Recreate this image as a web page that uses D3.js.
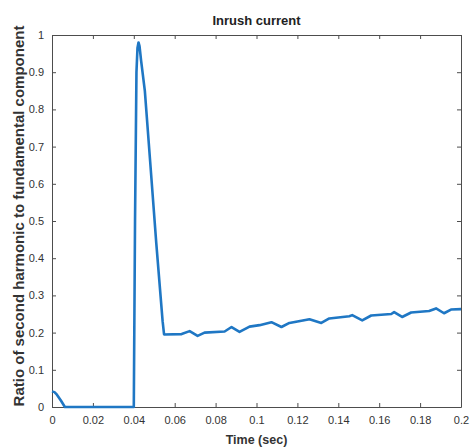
<!DOCTYPE html>
<html>
<head>
<meta charset="utf-8">
<script src="https://cdn.jsdelivr.net/npm/d3@7"></script>
<style>
  body { margin: 0; background: #fff; }
  svg { display: block; font-family: "Liberation Sans", Arial, sans-serif; }
</style>
</head>
<body>
<svg width="471" height="447"></svg>
<script>
// time (sec) and ratio of 2nd harmonic / fundamental
let times = [0, 0.0012, 0.0024, 0.0045, 0.0063, 0.02, 0.04, 0.0406, 0.0413, 0.0418, 0.0423, 0.0428, 0.0436,
  0.0454, 0.048, 0.051, 0.0541, 0.0548, 0.0634, 0.0673, 0.0712, 0.0746, 0.0844, 0.0878,
  0.0917, 0.0966, 0.1015, 0.1073, 0.1122, 0.1161, 0.1259, 0.1317, 0.1356, 0.1454, 0.1468,
  0.1517, 0.1561, 0.1659, 0.1673, 0.1712, 0.1756, 0.1844, 0.1878, 0.1917, 0.1951, 0.2];
let ratios = [0.042, 0.04, 0.033, 0.016, 0, 0, 0, 0.5, 0.9, 0.965, 0.98, 0.97, 0.93,
  0.85, 0.66, 0.44, 0.23, 0.195, 0.196, 0.204, 0.191, 0.2, 0.203, 0.215,
  0.202, 0.216, 0.22, 0.228, 0.215, 0.226, 0.236, 0.226, 0.238, 0.244, 0.247,
  0.233, 0.246, 0.25, 0.255, 0.242, 0.254, 0.258, 0.265, 0.252, 0.262, 0.263];

let xTicks = [0, 0.02, 0.04, 0.06, 0.08, 0.1, 0.12, 0.14, 0.16, 0.18, 0.2];
let yTicks = [0, 0.1, 0.2, 0.3, 0.4, 0.5, 0.6, 0.7, 0.8, 0.9, 1];

let svg = d3.select("svg");
let mLeft = 52, mRight = 461, mTop = 35, mBottom = 407;

let x = d3.scaleLinear().domain([0, 0.2]).range([mLeft, mRight]);
let y = d3.scaleLinear().domain([0, 1]).range([mBottom, mTop]);

let fmt = d => d === 0 ? "0" : d3.format("~g")(d);
let axisCol = "#4d4d4d";

// axes with inward ticks on all four sides
function styleAxis(g) {
  g.select(".domain").attr("stroke", axisCol);
  g.selectAll(".tick line").attr("stroke", axisCol);
  g.selectAll(".tick text").attr("fill", "#333").attr("font-size", 11);
}

svg.append("g").attr("transform", `translate(0,${mBottom})`)
  .call(d3.axisBottom(x).tickValues(xTicks).tickFormat(fmt).tickSizeInner(-4).tickSizeOuter(0).tickPadding(9))
  .call(styleAxis);
svg.append("g").attr("transform", `translate(0,${mTop})`)
  .call(d3.axisTop(x).tickValues(xTicks).tickFormat("").tickSizeInner(-4).tickSizeOuter(0))
  .call(styleAxis);
svg.append("g").attr("transform", `translate(${mLeft},0)`)
  .call(d3.axisLeft(y).tickValues(yTicks).tickFormat(fmt).tickSizeInner(-4).tickSizeOuter(0).tickPadding(8))
  .call(styleAxis);
svg.append("g").attr("transform", `translate(${mRight},0)`)
  .call(d3.axisRight(y).tickValues(yTicks).tickFormat("").tickSizeInner(-4).tickSizeOuter(0))
  .call(styleAxis);

// the curve
let line = d3.line()
  .x((d, i) => x(times[i]))
  .y(d => y(d));

svg.append("path")
  .datum(ratios)
  .attr("fill", "none")
  .attr("stroke", "#1f77c4")
  .attr("stroke-width", 2.6)
  .attr("stroke-linejoin", "round")
  .attr("d", line);

// labels
svg.append("text")
  .attr("x", (mLeft + mRight) / 2).attr("y", 25)
  .attr("text-anchor", "middle")
  .attr("font-size", 13).attr("font-weight", "bold").attr("fill", "#222")
  .text("Inrush current");

svg.append("text")
  .attr("x", (mLeft + mRight) / 2).attr("y", 444)
  .attr("text-anchor", "middle")
  .attr("font-size", 12.5).attr("font-weight", "bold").attr("fill", "#333")
  .text("Time (sec)");

svg.append("text")
  .attr("transform", `translate(24,216) rotate(-90)`)
  .attr("text-anchor", "middle")
  .attr("font-size", 15).attr("font-weight", "bold").attr("fill", "#333")
  .text("Ratio of second harmonic to fundamental component");
</script>
</body>
</html>
